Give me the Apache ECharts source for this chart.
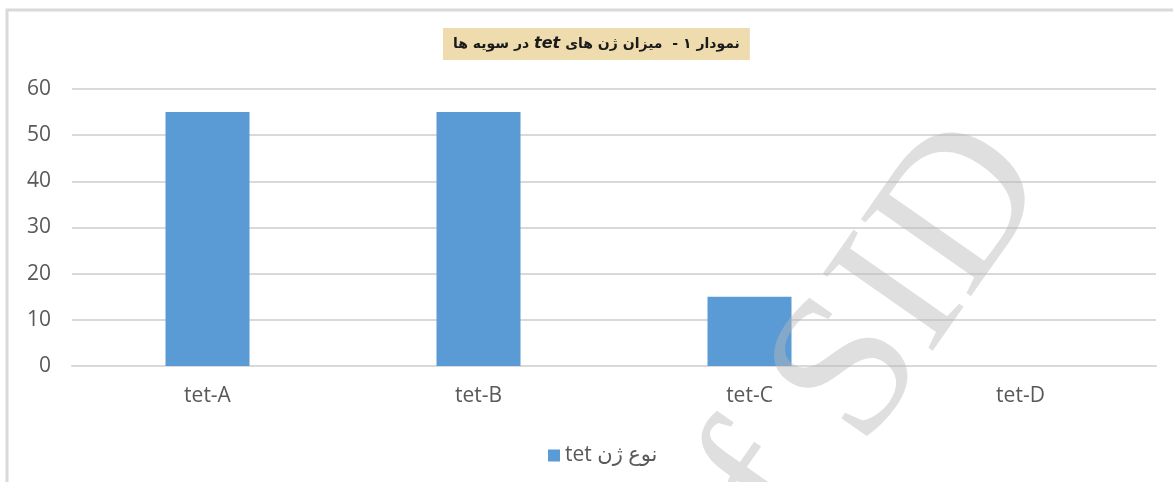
<!DOCTYPE html>
<html>
<head>
<meta charset="utf-8">
<script src="https://cdn.jsdelivr.net/npm/echarts@6/dist/echarts.min.js"></script>
<style>
    html, body { margin: 0; padding: 0; background: #fff; }
    #chart { width: 1173px; height: 482px; }
</style>
</head>
<body>
<div id="chart"></div>
<script>
    var categories = ['tet-A', 'tet-B', 'tet-C', 'tet-D'];
    var values = [55, 55, 15, 0];
    var seriesName = 'tet نوع ژن';

    var chartDom = document.getElementById('chart');
    var myChart = echarts.init(chartDom);
    var option;

    option = {
        backgroundColor: '#fff',
        animation: false,
        textStyle: {fontFamily: 'Open Sans, DejaVu Sans, sans-serif'},
        title: {
            // visual order, left to right (rtl title)
            text: '{a|در سویه ها }{b|tet}{a| نمودار ۱ -  میزان ژن های}',
            left: 443,
            top: 28,
            backgroundColor: '#EEDCAE',
            padding: [8, 10, 8, 10],
            textStyle: {
                rich: {
                    a: {fontSize: 14, color: '#1a1a1a', fontFamily: 'DejaVu Sans'},
                    b: {fontSize: 16, color: '#1a1a1a', fontWeight: 'bold', fontStyle: 'italic', fontFamily: 'DejaVu Sans'}
                }
            }
        },
        legend: {
            top: 440,
            left: 543,
            itemWidth: 12,
            itemHeight: 12,
            itemGap: 9,
            icon: 'rect',
            textStyle: {fontSize: 21, color: '#595959', fontFamily: 'Open Sans, DejaVu Sans'},
            data: [seriesName]
        },
        grid: {left: 72, right: 17, top: 89, bottom: 116},
        xAxis: {
            type: 'category',
            data: categories,
            axisLine: {show: true, lineStyle: {color: '#d9d9d9', width: 2}},
            axisTick: {show: false},
            axisLabel: {fontSize: 21, color: '#595959', margin: 20}
        },
        yAxis: {
            type: 'value',
            min: 0,
            max: 60,
            interval: 10,
            axisLine: {show: false},
            axisTick: {show: false},
            axisLabel: {fontSize: 21, color: '#595959', margin: 21},
            splitLine: {lineStyle: {color: '#d9d9d9', width: 2}}
        },
        series: [{
            name: seriesName,
            type: 'bar',
            data: values,
            barWidth: '31%',
            itemStyle: {color: '#5B9BD5'}
        }],
        graphic: [
            {
                // frame of the picture
                type: 'polyline',
                shape: {points: [[7, 482], [7, 10], [1173, 10]]},
                style: {stroke: '#d9d9d9', lineWidth: 3, fill: null},
                silent: true
            },
            {
                // watermark
                type: 'text',
                x: 850,
                y: 375,
                rotation: 55 * Math.PI / 180,
                z: 100,
                silent: true,
                style: {
                    text: 'of SID',
                    fontSize: 205,
                    fontFamily: 'Liberation Serif',
                    fill: 'rgba(185,185,185,0.45)',
                    align: 'center',
                    verticalAlign: 'middle'
                }
            }
        ]
    };
    option && myChart.setOption(option);
</script>
</body>
</html>
